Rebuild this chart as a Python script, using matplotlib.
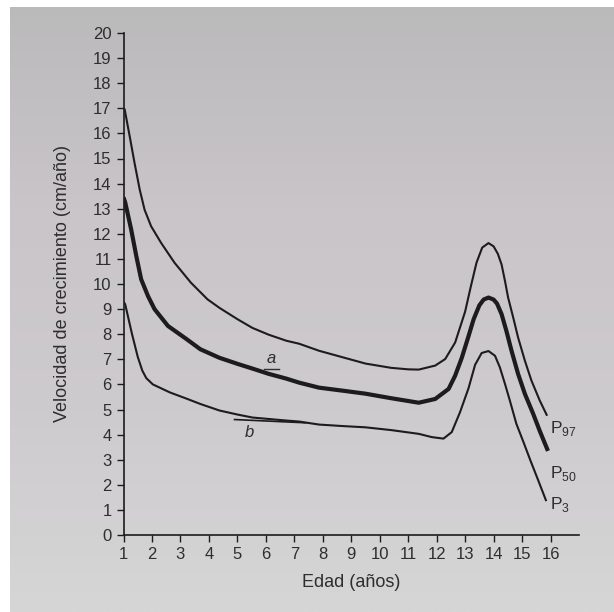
import matplotlib
matplotlib.use("Agg")
import matplotlib.pyplot as plt
import numpy as np

plt.rcParams['font.family'] = ['Liberation Sans', 'DejaVu Sans']

# values (edad en años, velocidad en cm/año)
p97_x = [1.0, 1.04, 1.22, 1.39, 1.57, 1.74, 1.97, 2.32, 2.79, 3.37, 3.95, 4.37, 5.0, 5.53, 6.1,
         6.72, 7.17, 7.87, 8.7, 9.5, 10.4, 11.0, 11.37, 11.95, 12.3, 12.65, 13.0, 13.2, 13.4,
         13.6, 13.82, 14.0, 14.15, 14.28, 14.4, 14.51, 14.69, 14.86, 15.1, 15.33, 15.62, 15.88]
p97_y = [17.0, 16.96, 15.87, 14.81, 13.76, 12.96, 12.3, 11.64, 10.85, 10.05, 9.39, 9.05, 8.6, 8.25, 7.98,
         7.74, 7.62, 7.34, 7.08, 6.83, 6.66, 6.6, 6.59, 6.75, 7.01, 7.67, 8.9, 9.9, 10.85,
         11.45, 11.63, 11.5, 11.2, 10.78, 10.12, 9.46, 8.66, 7.87, 6.94, 6.15, 5.36, 4.75]

p50_x = [1.0, 1.06, 1.27, 1.45, 1.62, 1.86, 2.09, 2.56, 3.22, 3.7, 4.37, 5.0, 5.53, 6.1, 6.72,
         7.17, 7.87, 8.7, 9.5, 10.4, 11.37, 11.95, 12.42, 12.65, 12.88, 13.1, 13.3, 13.5, 13.65,
         13.82, 14.0, 14.12, 14.28, 14.45, 14.63, 14.86, 15.1, 15.39, 15.62, 15.91]
p50_y = [13.45, 13.25, 12.17, 11.11, 10.19, 9.52, 9.0, 8.33, 7.8, 7.4, 7.06, 6.82, 6.63, 6.42, 6.23,
         6.07, 5.87, 5.75, 5.63, 5.45, 5.27, 5.42, 5.82, 6.35, 7.05, 7.85, 8.6, 9.15, 9.38,
         9.46, 9.38, 9.22, 8.8, 8.13, 7.34, 6.42, 5.62, 4.83, 4.15, 3.35]

p3_x = [1.0, 1.06, 1.3, 1.5, 1.66, 1.8, 2.03, 2.63, 3.22, 3.7, 4.37, 5.0, 5.53, 6.72, 7.17,
        7.87, 8.7, 9.5, 10.4, 11.37, 11.83, 12.24, 12.53, 12.82, 13.12, 13.35, 13.58, 13.82,
        14.05, 14.22, 14.4, 14.57, 14.8, 15.05, 15.3, 15.56, 15.85]
p3_y = [9.3, 9.19, 8.0, 7.1, 6.55, 6.25, 6.0, 5.68, 5.43, 5.22, 4.96, 4.8, 4.68, 4.56, 4.52,
        4.4, 4.34, 4.29, 4.18, 4.03, 3.9, 3.84, 4.1, 4.89, 5.85, 6.78, 7.25, 7.33,
        7.14, 6.68, 6.02, 5.36, 4.43, 3.7, 2.95, 2.2, 1.35]

curve_labels = ['97', '50', '3']
label_x = [15.98, 15.98, 15.98]
label_y = [4.25, 2.45, 1.2]

b_line_x = [4.9, 7.4]
b_line_y = [4.6, 4.47]

x_ticks = list(range(1, 17))
y_ticks = list(range(0, 21))

ink = '#1c1c1c'
txt = '#2e2e2e'

fig = plt.figure(figsize=(6.14, 6.12), dpi=100, facecolor='white')

# paper background (photo of a printed page)
bg = fig.add_axes([10 / 614, 0, 1 - 10 / 614, 1 - 7 / 612], zorder=-5)
grad = np.linspace(0, 1, 256).reshape(-1, 1)
bg.imshow(grad, aspect='auto', cmap=matplotlib.colors.LinearSegmentedColormap.from_list(
    'paper', ['#bbbabb', '#c9c5c9', '#cecbce', '#d6d6d6']), extent=[0, 1, 0, 1])
bg.axis('off')

ax = fig.add_axes([123.5 / 614, 1 - 535 / 612, (579 - 123.5) / 614, (535 - 33) / 612])
ax.patch.set_alpha(0)

ax.plot(p97_x, p97_y, color=ink, lw=1.5, solid_capstyle='butt', solid_joinstyle='round')
ax.plot(p50_x, p50_y, color=ink, lw=3.0, solid_capstyle='butt', solid_joinstyle='round')
ax.plot(p3_x, p3_y, color=ink, lw=1.5, solid_capstyle='butt', solid_joinstyle='round')
ax.plot(b_line_x, b_line_y, color=ink, lw=1.2)

for lab, lx, ly in zip(curve_labels, label_x, label_y):
    ax.text(lx, ly, r'P$_{\mathregular{%s}}$' % lab, color=txt, fontsize=12.5,
            ha='left', va='center', clip_on=False)

ax.text(6.19, 6.75, 'a', style='italic', color=txt, fontsize=12, ha='center', va='bottom')
ax.plot([5.95, 6.47], [6.63, 6.63], color=txt, lw=1.0)
ax.text(5.42, 4.4, 'b', style='italic', color=txt, fontsize=12, ha='center', va='top')

ax.set_xlim(1, 17)
ax.set_ylim(0, 20)
ax.set_xticks(x_ticks)
ax.set_yticks(y_ticks)
ax.tick_params(colors=ink, labelcolor=txt, labelsize=12, length=5, width=1.0)
ax.spines['top'].set_visible(False)
ax.spines['right'].set_visible(False)
for s in ['left', 'bottom']:
    ax.spines[s].set_color(ink)
    ax.spines[s].set_linewidth(1.2)

ax.set_xlabel('Edad (años)', color=txt, fontsize=13, labelpad=9)
ax.set_ylabel('Velocidad de crecimiento (cm/año)', color=txt, fontsize=13, labelpad=16)

fig.savefig('out.png', dpi=100, facecolor=fig.get_facecolor())
